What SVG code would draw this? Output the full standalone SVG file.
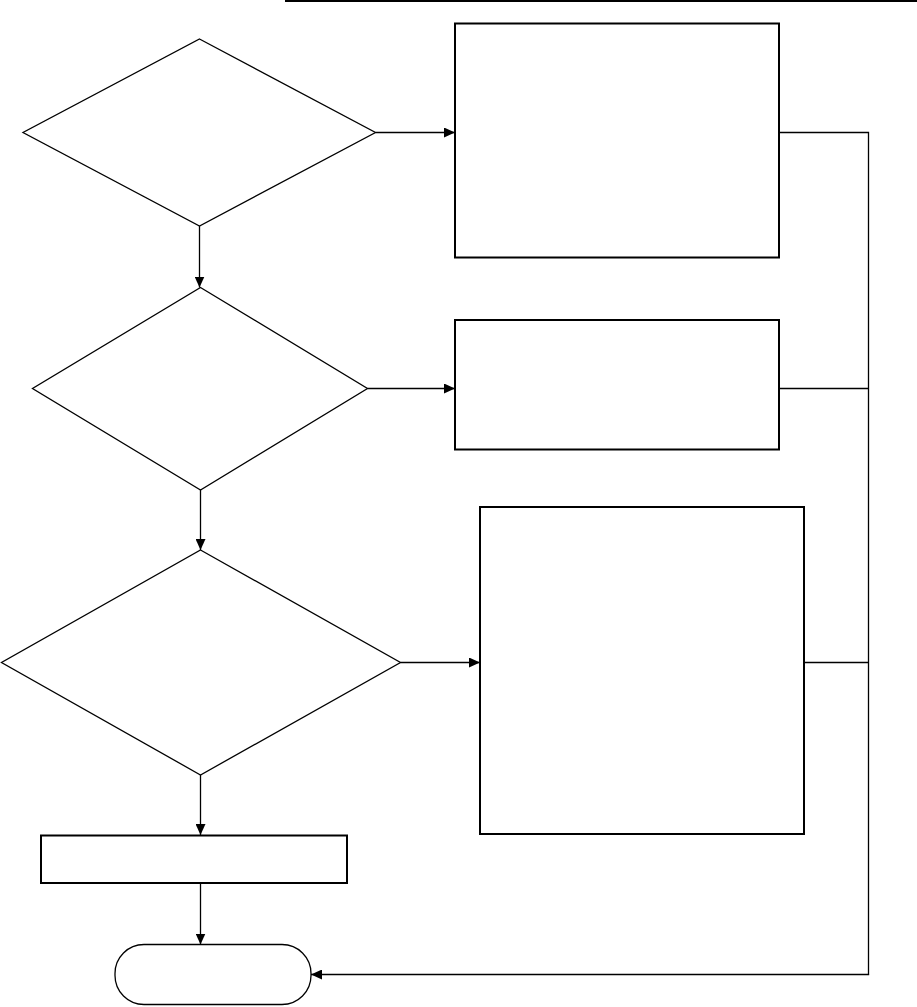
<svg xmlns="http://www.w3.org/2000/svg" width="917" height="1007" viewBox="0 0 917 1007">
<style>
.box{fill:#fff;stroke:#000;stroke-width:2}
.dia{fill:#fff;stroke:#000;stroke-width:1.3}
.term{fill:#fff;stroke:#000;stroke-width:1.3}
.conn{fill:none;stroke:#000;stroke-width:1.3}
.arr{fill:none;stroke:#000;stroke-width:1.3;marker-end:url(#ah)}
</style>
<defs>
<marker id="ah" markerWidth="11" markerHeight="10" refX="11" refY="5" orient="auto" markerUnits="userSpaceOnUse">
<path d="M0,0 L11,5 L0,10 Z" fill="#000"/>
</marker>
</defs>
<rect width="917" height="1007" fill="#fff"/>
<line x1="285" y1="1" x2="917" y2="1" stroke="#000" stroke-width="2"/>
<g id="d1"><polygon class="dia" points="199.5,39 375.5,132.5 199.5,226 23,132.5"/></g>
<g id="d2"><polygon class="dia" points="200.5,287.5 367.5,388.5 200.5,490 32.5,388.5"/></g>
<g id="d3"><polygon class="dia" points="200.5,550 400.5,662.5 200.5,775 1.5,662.5"/></g>
<g id="b1"><rect class="box" x="455" y="23.5" width="324" height="234"/></g>
<g id="b2"><rect class="box" x="455" y="320" width="324" height="129.5"/></g>
<g id="b3"><rect class="box" x="480" y="507" width="324" height="327"/></g>
<g id="b4"><rect class="box" x="41" y="835.5" width="306" height="47.5"/></g>
<g id="t1"><rect class="term" x="115" y="944.5" width="196" height="60" rx="29" ry="29"/></g>
<g id="connectors">
<line class="arr" x1="375.5" y1="132.5" x2="455" y2="132.5"/>
<line class="arr" x1="367.5" y1="388.5" x2="455" y2="388.5"/>
<line class="arr" x1="400.5" y1="662.5" x2="480" y2="662.5"/>
<line class="arr" x1="199.5" y1="226" x2="199.5" y2="287.5"/>
<line class="arr" x1="200.5" y1="490" x2="200.5" y2="550"/>
<line class="arr" x1="200.5" y1="775" x2="200.5" y2="835"/>
<line class="arr" x1="200.5" y1="883" x2="200.5" y2="944.5"/>
<polyline class="conn" points="779,132.5 868.5,132.5 868.5,974.5"/>
<line class="conn" x1="779" y1="388.5" x2="868.5" y2="388.5"/>
<line class="conn" x1="804" y1="662.5" x2="868.5" y2="662.5"/>
<polyline class="arr" points="868.5,974 868.5,974.5 311,974.5"/>
</g>
</svg>
